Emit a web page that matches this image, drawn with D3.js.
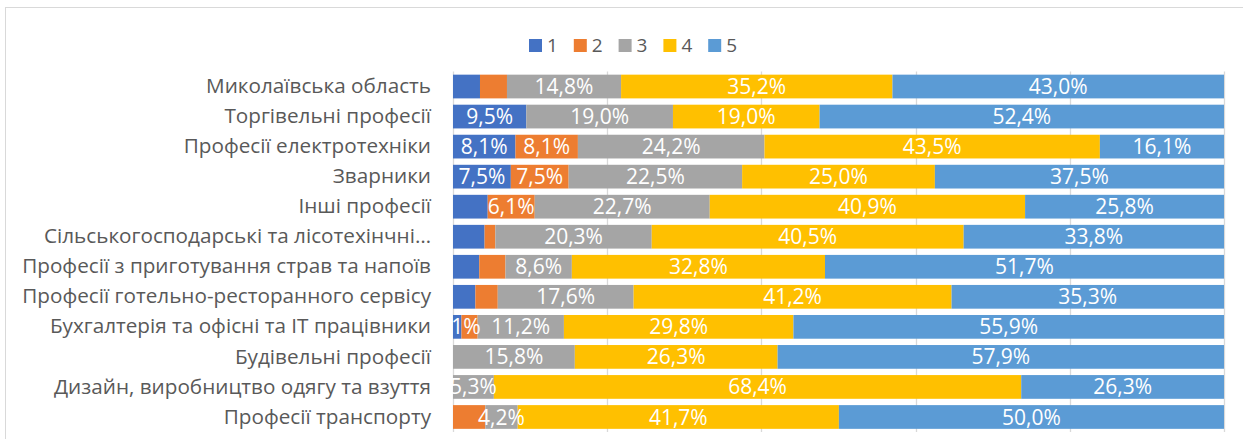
<!DOCTYPE html>
<html>
<head>
<meta charset="utf-8">
<script src="https://cdn.jsdelivr.net/npm/d3@7"></script>
<style>
  html, body { margin: 0; padding: 0; background: #fff; }
  svg { display: block; }
  text { font-family: "Open Sans", "Noto Sans", sans-serif; }
</style>
</head>
<body>
<svg id="chart" width="1243" height="439"></svg>
<script>
// Профільні групи та розподіл оцінок (%), 100% накопичена смуга
const categories = [
  "Миколаївська область",
  "Торгівельні професії",
  "Професії електротехніки",
  "Зварники",
  "Інші професії",
  "Сільськогосподарські та лісотехінчні…",
  "Професії з приготування страв та напоїв",
  "Професії готельно-ресторанного сервісу",
  "Бухгалтерія та офісні та ІТ працівники",
  "Будівельні професії",
  "Дизайн, виробництво одягу та взуття",
  "Професії транспорту"
];

const seriesNames = ["1", "2", "3", "4", "5"];

const score1 = [3.5, 9.5, 8.1, 7.5, 4.5, 4.1, 3.4, 2.9, 1.1, 0, 0, 0];
const score2 = [3.5, 0, 8.1, 7.5, 6.1, 1.4, 3.4, 2.9, 2.1, 0, 0, 4.2];
const score3 = [14.8, 19.0, 24.2, 22.5, 22.7, 20.3, 8.6, 17.6, 11.2, 15.8, 5.3, 4.2];
const score4 = [35.2, 19.0, 43.5, 25.0, 40.9, 40.5, 32.8, 41.2, 29.8, 26.3, 68.4, 41.7];
const score5 = [43.0, 52.4, 16.1, 37.5, 25.8, 33.8, 51.7, 35.3, 55.9, 57.9, 26.3, 50.0];

// Which data labels are displayed (1 = shown) for each series
const label1 = [0, 1, 1, 1, 0, 0, 0, 0, 1, 0, 0, 0];
const label2 = [0, 0, 1, 1, 1, 0, 0, 0, 0, 0, 0, 0];
const label3 = [1, 1, 1, 1, 1, 1, 1, 1, 1, 1, 1, 1];
const label4 = [1, 1, 1, 1, 1, 1, 1, 1, 1, 1, 1, 1];
const label5 = [1, 1, 1, 1, 1, 1, 1, 1, 1, 1, 1, 1];

const xTicks = [0, 0.2, 0.4, 0.6, 0.8, 1];

const seriesValues = [score1, score2, score3, score4, score5];
const seriesLabels = [label1, label2, label3, label4, label5];
const colors = ["#4472C4", "#ED7D31", "#A5A5A5", "#FFC000", "#5B9BD5"];

const rows = categories.map((c, i) => {
  const r = { category: c };
  seriesNames.forEach((s, k) => { r[s] = seriesValues[k][i]; });
  return r;
});

const svg = d3.select("#chart");

// outer chart frame
svg.append("rect")
  .attr("x", 5.5).attr("y", 7.5)
  .attr("width", 1400).attr("height", 600)
  .attr("fill", "none").attr("stroke", "#D9D9D9").attr("stroke-width", 1);

const plot = { left: 453, right: 1224, top: 71.5, bottom: 432 };

const x = d3.scaleLinear().domain([0, 1]).range([plot.left, plot.right]);
const y = d3.scaleBand().domain(categories)
  .range([plot.top, plot.bottom])
  .paddingInner(0.21).paddingOuter(0.105);

const stack = d3.stack().keys(seriesNames).offset(d3.stackOffsetExpand);
const stacked = stack(rows);

// vertical gridlines
svg.append("g")
  .selectAll("line")
  .data(xTicks)
  .join("line")
  .attr("x1", d => Math.round(x(d)) + 0.5)
  .attr("x2", d => Math.round(x(d)) + 0.5)
  .attr("y1", plot.top).attr("y2", plot.bottom)
  .attr("stroke", "#D9D9D9").attr("stroke-width", 1.3);

// bars
const layers = svg.append("g")
  .selectAll("g")
  .data(stacked)
  .join("g")
  .attr("fill", (d, i) => colors[i]);

layers.selectAll("rect")
  .data(d => d)
  .join("rect")
  .attr("x", d => x(d[0]))
  .attr("width", d => Math.max(0, x(d[1]) - x(d[0])))
  .attr("y", d => y(d.data.category))
  .attr("height", y.bandwidth());

// data labels
const fmt = v => v.toFixed(1).replace(".", ",") + "%";
const labelLayer = svg.append("g");
stacked.forEach((layer, k) => {
  layer.forEach((d, i) => {
    const v = seriesValues[k][i];
    if (!seriesLabels[k][i] || v <= 0) return;
    labelLayer.append("text")
      .attr("x", (x(d[0]) + x(d[1])) / 2)
      .attr("y", y(d.data.category) + y.bandwidth() / 2)
      .attr("dy", "0.36em")
      .attr("text-anchor", "middle")
      .attr("fill", "#FFFFFF")
      .attr("font-size", 21)
      .text(fmt(v));
  });
});

// category axis
const yAxis = svg.append("g")
  .attr("transform", `translate(${plot.left},0)`)
  .call(d3.axisLeft(y).tickSize(0).tickPadding(22));
yAxis.select(".domain").remove();
yAxis.selectAll("text")
  .attr("font-family", "Open Sans")
  .attr("font-size", 20.7)
  .attr("fill", "#595959");

// legend
const legend = svg.append("g").attr("transform", "translate(529,39)");
const item = legend.selectAll("g")
  .data(seriesNames)
  .join("g")
  .attr("transform", (d, i) => `translate(${i * 44.8},0)`);
item.append("rect")
  .attr("width", 13).attr("height", 13)
  .attr("fill", (d, i) => colors[i]);
item.append("text")
  .attr("x", 18).attr("y", 6.5).attr("dy", "0.36em")
  .attr("font-size", 19)
  .attr("fill", "#595959")
  .text(d => d);
</script>
</body>
</html>
